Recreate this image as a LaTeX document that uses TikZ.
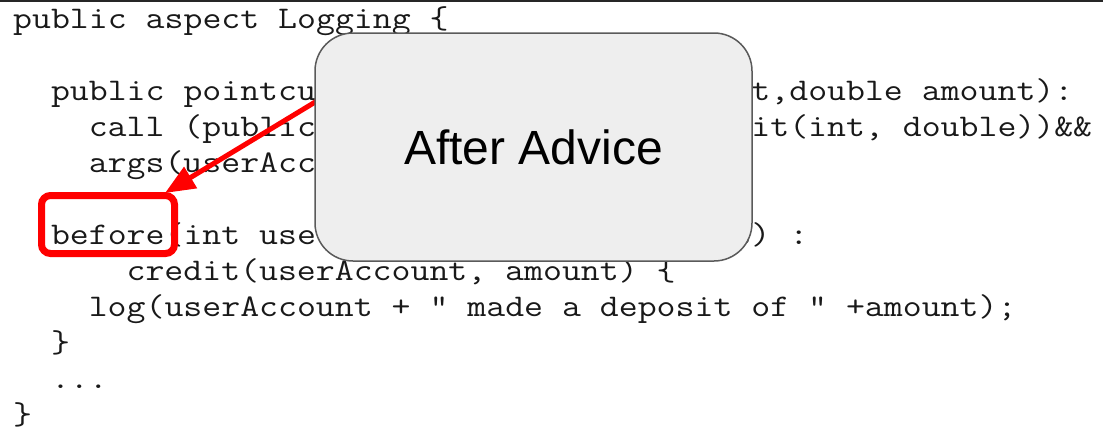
\documentclass[tikz,border=0pt]{standalone}
\usepackage{fontspec}
\usepackage{graphicx}
\setmainfont{Liberation Sans}
\usetikzlibrary{arrows.meta}

\definecolor{boxgray}{HTML}{EEEEEE}
\definecolor{edgegray}{HTML}{5A5A5A}
\newcommand{\gapcols}[1]{\hspace*{#1\fontcharwd\font`x}}
\newcommand{\codeln}[1]{\scalebox{1.167}[1]{#1}}

\tikzset{
  code/.style={anchor=base west, inner sep=0pt, text=black!90,
    font=\ttfamily\fontsize{31.5}{36}\selectfont},
  kwbox/.style={draw=red, line width=7pt, rounded corners=9pt,
    minimum width=133pt, minimum height=58pt, inner sep=0pt},
  advice/.style={draw=edgegray, fill=boxgray, line width=1.5pt,
    rounded corners=38pt, minimum width=437pt, minimum height=228pt,
    font=\fontsize{48}{58}\selectfont},
  pointer/.style={->, red, line width=5pt},
}

\begin{document}
\begin{tikzpicture}[x=1pt, y=-1pt, >={Triangle[length=30pt,width=24pt]}]
  \useasboundingbox (0,0) rectangle (1103,429);
  \draw[line width=2.5pt, black!85] (0,1) -- (1103,1);

  % code listing, one node per line
  \node[code] (l1) at (13,28) {\codeln{public aspect Logging \{}};
  \node[code] (l3) at (50.8,100) {\codeln{public pointcu\gapcols{23}t,double amount):}};
  \node[code] (l4) at (88.6,136) {\codeln{call (public\gapcols{22}dit(int, double))\&\&}};
  \node[code] (l5) at (88.6,172) {\codeln{args(userAcc}};
  \node[code] (l7) at (50.8,244) {\codeln{before(int use\gapcols{22}t) :}};
  \node[code] (l8) at (126.4,280) {\codeln{credit(userAccount, amount) \{}};
  \node[code] (l9) at (88.6,316) {\codeln{log(userAccount + " made a deposit of " +amount);}};
  \node[code] (l10) at (50.8,352) {\codeln{\}}};
  \node[code] (l11) at (50.8,388) {\codeln{...}};
  \node[code] (l12) at (13,424) {\codeln{\}}};

  % highlight and pointer
  \node[kwbox] (kw) at (108,224.5) {};
  \coordinate (tail) at (340,87);
  \coordinate (tip) at (165,193);
  \draw[pointer] (tail) -- (tip);

  \node[advice] (adv) at (533.5,147) {After Advice};
\end{tikzpicture}
\end{document}
